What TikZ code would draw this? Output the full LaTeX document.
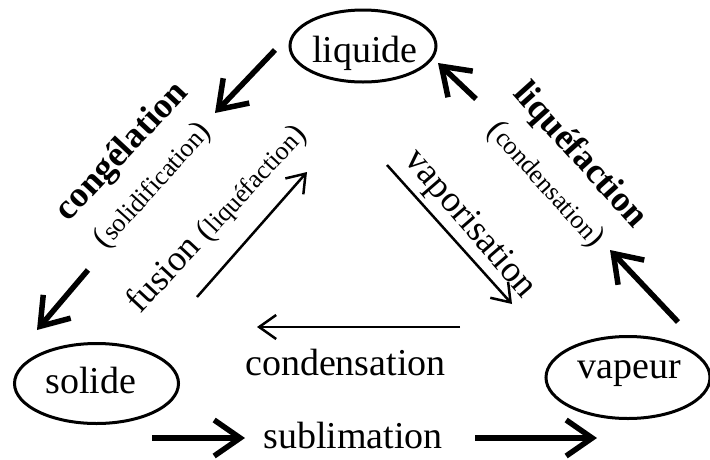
\documentclass[tikz,border=0pt]{standalone}
\usepackage{fontspec}
\setmainfont{Liberation Serif}
\usetikzlibrary{arrows.meta,shapes.geometric}
\newcommand{\fsz}[1]{\fontsize{#1}{#1}\selectfont}
\begin{document}
\begin{tikzpicture}[x=1pt,y=-1pt,
  state/.style={ellipse, draw, line width=3pt, inner sep=0pt},
  lbl/.style={anchor=base, inner sep=0pt, font=\fsz{38}},
  boldlbl/.style={anchor=base, inner sep=0pt, font=\fsz{36}\bfseries},
  heavy/.style={line width=5.5pt, -{Straight Barb[length=26pt,width=36pt]}},
  light/.style={line width=2.5pt, -{Straight Barb[length=17pt,width=24pt]}}]
\useasboundingbox[fill=white] (0,0) rectangle (710,459);
% states
\node[state, minimum width=146pt, minimum height=72pt] (liq) at (363,46) {};
\node[state, minimum width=164pt, minimum height=80pt] (sol) at (96.5,383.5) {};
\node[state, minimum width=164pt, minimum height=82pt] (vap) at (628,377.5) {};
\node[lbl] (tliq) at (365,62) {liquide};
\node[lbl] (tsol) at (91,393) {solide};
\node[lbl] (tvap) at (629.5,378) {vapeur};
% coordinates of arrow ends
\coordinate (a1s) at (275,50);  \coordinate (a1e) at (215,113);
\coordinate (a2s) at (88,270);  \coordinate (a2e) at (37,330);
\coordinate (a3s) at (476,99);  \coordinate (a3e) at (438,63);
\coordinate (a4s) at (678,322); \coordinate (a4e) at (610,250);
\coordinate (a5s) at (152,438); \coordinate (a5e) at (245,438);
\coordinate (a6s) at (475,438); \coordinate (a6e) at (597,438);
\coordinate (t1s) at (460,327); \coordinate (t1e) at (257,327);
\coordinate (t2s) at (197,297); \coordinate (t2e) at (307,172);
\coordinate (t3s) at (387,165); \coordinate (t3e) at (512,304);
% heavy arrows
\draw[heavy] (a1s) -- (a1e);
\draw[heavy] (a2s) -- (a2e);
\draw[heavy] (a3s) -- (a3e);
\draw[heavy] (a4s) -- (a4e);
\draw[heavy] (a5s) -- (a5e);
\draw[heavy] (a6s) -- (a6e);
% light arrows
\draw[light] (t1s) -- (t1e);
\draw[light] (t2s) -- (t2e);
\draw[light] (t3s) -- (t3e);
% labels
\node[boldlbl, rotate=47] (cong) at (129,158) {congélation};
\node[anchor=base, inner sep=0pt, rotate=48] (solid) at (159,191)
  {{\fsz{32}(}{\fsz{26}solidification}{\fsz{32})}};
\node[anchor=base, inner sep=0pt, rotate=47] (fus) at (224,225)
  {{\fsz{36}fusion }{\fsz{32}(}{\fsz{26}liquéfaction}{\fsz{32})}};
\node[anchor=base, inner sep=0pt, font=\fsz{37}, rotate=-49] (vapo) at (463,230) {vaporisation};
\node[boldlbl, rotate=-48] (liqf) at (573,162) {liquéfaction};
\node[anchor=base, inner sep=0pt, rotate=-48] (cond2) at (540,190)
  {{\fsz{32}(}{\fsz{26}condensation}{\fsz{32})}};
\node[lbl] (cond) at (345.5,375) {condensation};
\node[lbl] (subl) at (353,448) {sublimation};
\end{tikzpicture}
\end{document}
